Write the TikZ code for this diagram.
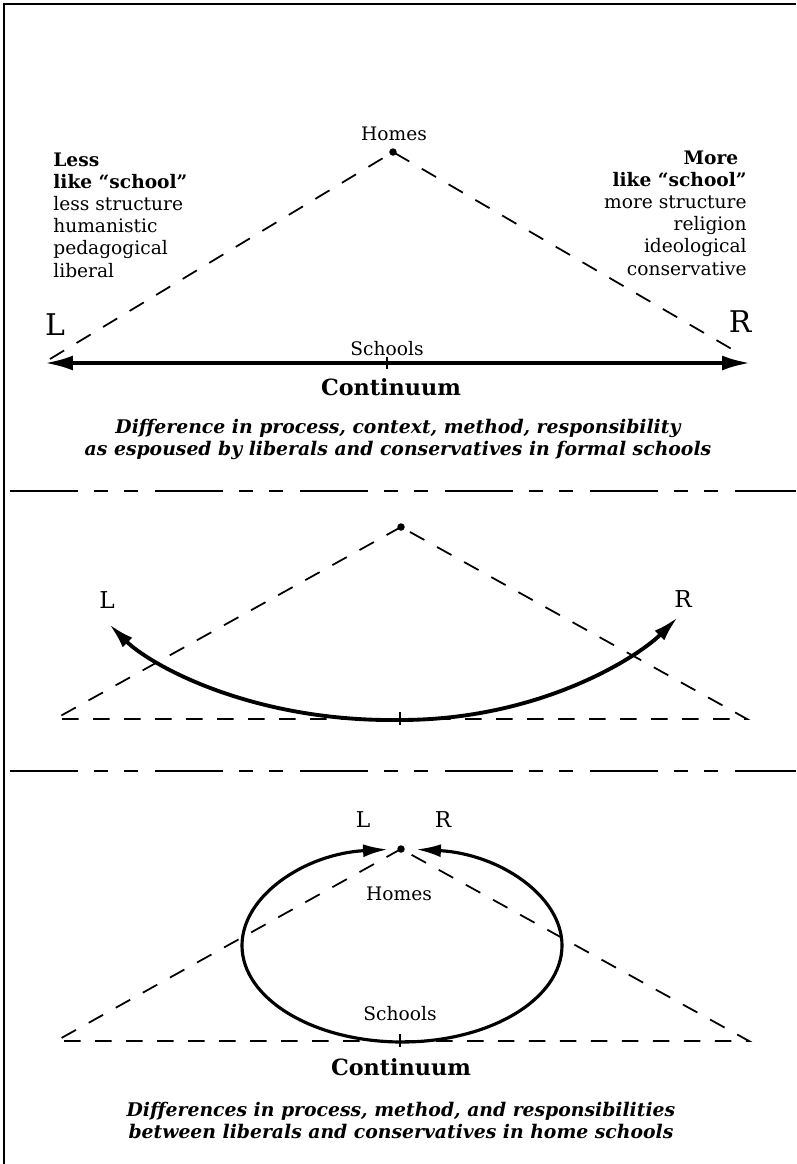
\documentclass[tikz,border=0pt]{standalone}
\usepackage{fontspec}
\setmainfont{DejaVu Serif}
\usetikzlibrary{arrows.meta}

\begin{document}
\begin{tikzpicture}[x=0.02cm,y=-0.02cm,
    txt/.style={inner sep=0pt,font=\fontsize{10.6}{12.6}\selectfont},
    ends/.style={inner sep=0pt,font=\fontsize{#1}{#1}\selectfont},
    cont/.style={inner sep=0pt,font=\bfseries\fontsize{12.7}{15}\selectfont},
    capt/.style={inner sep=0pt,align=center,font=\bfseries\itshape\fontsize{10.7}{12.1}\selectfont},
    dot/.style={circle,fill,inner sep=0pt,minimum size=0.15cm},
    side/.style={line width=1pt,dash pattern=on 0.33cm off 0.29cm},
    sep/.style={line width=0.9pt,dash pattern=on 1.36cm off 0.32cm on 0.28cm off 0.32cm on 0.28cm off 0.34cm},
    tick/.style={line width=0.8pt},
    axis/.style={line width=2pt,{Latex[length=0.56cm,width=0.3cm]}-{Latex[length=0.56cm,width=0.3cm]}},
    swing/.style={line width=2.2pt,{Latex[length=0.52cm,width=0.27cm]}-{Latex[length=0.52cm,width=0.27cm]}},
    ring/.style={line width=1.8pt,-{Latex[length=0.5cm,width=0.26cm]}}]
    \useasboundingbox (0,0) rectangle (796,1164);
    \coordinate (fbl) at (4,1164);
    \coordinate (ftl) at (4,4);
    \coordinate (ftr) at (796,4);
    \draw[line width=1.1pt] (fbl) -- (ftl) -- (ftr);

    \node[dot] (top1) at (393,152) {};
    \node[txt,anchor=base] (homes1) at (394,140) {Homes};
    \coordinate (lend1) at (50,359);
    \coordinate (rend1) at (742,355);
    \draw[side] (lend1) -- (top1.center) -- (rend1);
    \coordinate (lmost1) at (45,363);
    \coordinate (rmost1) at (750,363);
    \draw[axis] (lmost1) -- (rmost1);
    \coordinate (mid1) at (387,363);
    \draw[tick] (mid1) ++(0,-6) -- ++(0,12);
    \node[txt,anchor=base] (schools1) at (387,355) {Schools};
    \node[cont,anchor=base] (cont1) at (391,395) {Continuum};
    \node[ends=17,anchor=base] (L1) at (55,335) {L};
    \node[ends=17,anchor=base] (R1) at (740,332) {R};
    \node[txt,align=left,anchor=base west] (less) at (53,277)
      {\textbf{Less}\\\textbf{like “school”}\\less structure\\humanistic\\pedagogical\\liberal};
    \node[txt,align=right,anchor=base east] (more) at (747,275)
      {\textbf{More}\hspace*{0.45em}\\\textbf{like “school”}\\more structure\\religion\\ideological\\conservative};
    \node[capt,anchor=base] (cap1) at (398,455)
      {Difference in process, context, method, responsibility\\as espoused by liberals and conservatives in formal schools};

    \coordinate (s1a) at (10,491);
    \coordinate (s1b) at (796,491);
    \draw[sep] (s1a) -- (s1b);

    \node[dot] (top2) at (401,527) {};
    \coordinate (lend2) at (55,719);
    \coordinate (rend2) at (747,719);
    \draw[side] (top2.center) -- (lend2) -- (rend2) -- cycle;
    \coordinate (mid2) at (400,719);
    \draw[tick] (mid2) ++(0,-7) -- ++(0,13);
    \coordinate (tipL2) at (109,624);
    \coordinate (tipR2) at (678,617);
    \coordinate (low2) at (400,720);
    \draw[swing] (tipL2) .. controls (149,664) and (250,722) .. (low2)
      .. controls (540,720) and (638,657) .. (tipR2);
    \node[ends=13.2,anchor=base] (L2) at (107,608) {L};
    \node[ends=13.2,anchor=base] (R2) at (683,607) {R};

    \coordinate (s2a) at (10,771);
    \coordinate (s2b) at (796,771);
    \draw[sep] (s2a) -- (s2b);

    \node[dot] (top3) at (401,849) {};
    \coordinate (lend3) at (56,1041);
    \coordinate (rend3) at (749,1041);
    \draw[side] (top3.center) -- (lend3) -- (rend3) -- cycle;
    \coordinate (mid3) at (400,1041);
    \draw[tick] (mid3) ++(0,-7) -- ++(0,13);
    \coordinate (bot3) at (402,1042);
    \draw[ring] (bot3) arc[start angle=90,end angle=265,x radius=160,y radius=96.5];
    \draw[ring] (bot3) arc[start angle=90,end angle=-85,x radius=160,y radius=96.5];
    \node[ends=12.4,anchor=base] (L3) at (363,827) {L};
    \node[ends=12.4,anchor=base] (R3) at (443,827) {R};
    \node[txt,anchor=base] (homes3) at (399,900) {Homes};
    \node[txt,anchor=base] (schools3) at (400,1020) {Schools};
    \node[cont,anchor=base] (cont3) at (401,1075) {Continuum};
    \node[capt,anchor=base] (cap3) at (401,1138)
      {Differences in process, method, and responsibilities\\between liberals and conservatives in home schools};
  \end{tikzpicture}
\end{document}
